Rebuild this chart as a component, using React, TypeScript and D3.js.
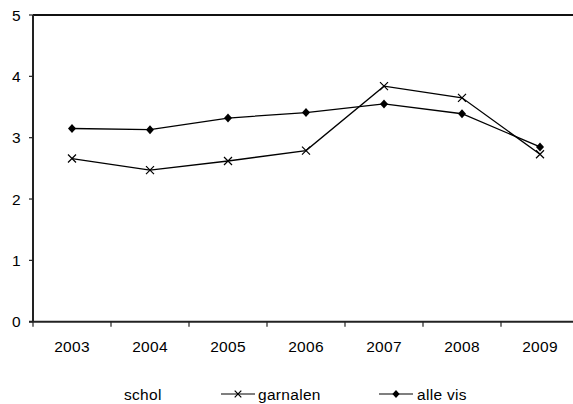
import React from "react";
import * as d3 from "d3";

const years = ["2003", "2004", "2005", "2006", "2007", "2008", "2009"];
const garnalen = [2.66, 2.47, 2.62, 2.79, 3.84, 3.65, 2.73];
const alleVis = [3.15, 3.13, 3.32, 3.41, 3.55, 3.39, 2.85];
const yTicks = [0, 1, 2, 3, 4, 5];
const legendLabels = ["schol", "garnalen", "alle vis"];

const W = 573;
const H = 404;
const left = 33;
const right = 579;
const top = 15;
const bottom = 321.7;
const font = "'Liberation Sans', Arial, sans-serif";

export default function App() {
  const x = d3.scaleBand<string>().domain(years).range([left, right]).padding(0);
  const y = d3.scaleLinear().domain([0, 5]).range([bottom, top]);
  const cx = (d: string) => (x(d) as number) + x.bandwidth() / 2;
  const line = d3
    .line<number>()
    .x((_, i) => cx(years[i]))
    .y((v) => y(v));

  const cross = (px: number, py: number, k: string, s = 4) => (
    <path
      key={k}
      d={`M${px - s},${py - s}L${px + s},${py + s}M${px - s},${py + s}L${px + s},${py - s}`}
      stroke="#000"
      strokeWidth={1.2}
      fill="none"
    />
  );
  const diamond = (px: number, py: number, k: string, s = 4) => (
    <path
      key={k}
      d={`M${px},${py - s - 0.5}L${px + s},${py}L${px},${py + s + 0.5}L${px - s},${py}Z`}
      fill="#000"
    />
  );

  const textStyle = { fontFamily: font, fontSize: 15.5, letterSpacing: 0.3 } as React.CSSProperties;

  return (
    <div style={{ position: "absolute", left: 0, top: 0, width: W, height: H, overflow: "hidden", background: "#fff" }}>
      <svg width={W} height={H} style={{ display: "block" }}>
        <rect x={0} y={0} width={W} height={H} fill="#fff" />
        <line x1={left} x2={W} y1={top} y2={top} stroke="#111" strokeWidth={2} />
        <line x1={left} x2={left} y1={top} y2={bottom} stroke="#222" strokeWidth={2} />
        <line x1={left - 4} x2={W} y1={bottom} y2={bottom} stroke="#222" strokeWidth={2} />
        {yTicks.map((t) => (
          <g key={"yt" + t}>
            <line x1={left - 4} x2={left} y1={y(t)} y2={y(t)} stroke="#222" strokeWidth={1.2} />
            <text x={21} y={y(t) + 5.5} textAnchor="end" style={textStyle} fill="#000">
              {t}
            </text>
          </g>
        ))}
        {years.map((yr) => (
          <g key={"xt" + yr}>
            <line
              x1={x(yr) as number}
              x2={x(yr) as number}
              y1={bottom}
              y2={bottom + 5}
              stroke="#222"
              strokeWidth={1.2}
            />
            <text x={cx(yr)} y={352} textAnchor="middle" style={textStyle} fill="#000">
              {yr}
            </text>
          </g>
        ))}
        <path d={line(garnalen) || ""} fill="none" stroke="#000" strokeWidth={1.3} />
        <path d={line(alleVis) || ""} fill="none" stroke="#000" strokeWidth={1.3} />
        {garnalen.map((v, i) => cross(cx(years[i]), y(v), "g" + i))}
        {alleVis.map((v, i) => diamond(cx(years[i]), y(v), "a" + i))}

        <text x={124} y={399.5} style={textStyle} fill="#000">
          {legendLabels[0]}
        </text>
        <line x1={221} x2={255} y1={394} y2={394} stroke="#000" strokeWidth={1.2} />
        {cross(238, 394, "lg", 3.3)}
        <text x={258} y={399.5} style={textStyle} fill="#000">
          {legendLabels[1]}
        </text>
        <line x1={379} x2={413} y1={394} y2={394} stroke="#000" strokeWidth={1.2} />
        {diamond(396, 394, "la", 3.6)}
        <text x={417} y={399.5} style={textStyle} fill="#000">
          {legendLabels[2]}
        </text>
      </svg>
    </div>
  );
}
